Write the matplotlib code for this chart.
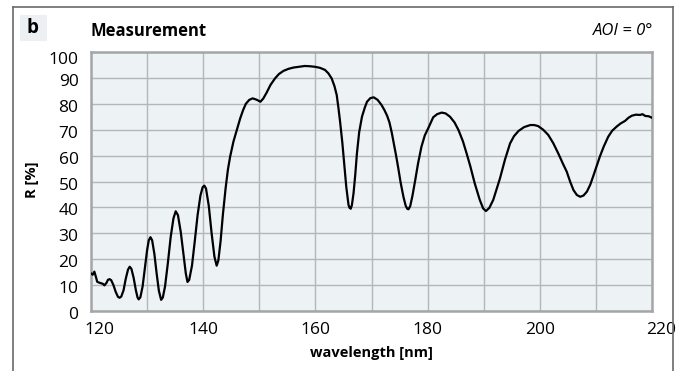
import matplotlib
matplotlib.use("Agg")
import matplotlib.pyplot as plt
from matplotlib.lines import Line2D
from matplotlib.patches import Rectangle
import matplotlib.transforms as mtransforms

plt.rcParams['font.family'] = ['Open Sans', 'DejaVu Sans']

wavelength = [
    120.0, 120.3, 120.6, 120.9, 121.1, 121.4, 121.8, 122.1, 122.4, 122.8,
    123.0, 123.3, 123.6, 124.0, 124.4, 124.8, 125.1, 125.4, 125.8, 126.2,
    126.6, 126.9, 127.2, 127.6, 128.0, 128.3, 128.5, 128.8, 129.2, 129.6,
    130.0, 130.3, 130.6, 130.9, 131.3, 131.7, 132.1, 132.5, 132.8, 133.2,
    133.7, 134.2, 134.7, 135.1, 135.5, 136.0, 136.5, 136.9, 137.2, 137.5,
    138.0, 138.5, 139.0, 139.5, 139.9, 140.2, 140.5, 141.0, 141.5, 142.0,
    142.4, 142.7, 143.1, 143.5, 144.0, 144.4, 144.8, 145.4, 146.0, 146.6,
    147.1, 147.6, 148.2, 148.8, 149.5, 150.2, 150.7, 151.3, 152.0, 152.8,
    153.5, 154.3, 155.2, 156.1, 157.1, 158.1, 159.0, 159.9, 160.8, 161.7,
    162.3, 162.9, 163.4, 163.8, 164.1, 164.4, 164.8, 165.1, 165.5, 165.9,
    166.1, 166.3, 166.5, 166.8, 167.1, 167.4, 167.8, 168.3, 168.8, 169.2,
    169.8, 170.4, 171.1, 171.8, 172.3, 172.8, 173.2, 173.6, 174.0, 174.4,
    174.8, 175.2, 175.7, 176.1, 176.4, 176.6, 176.9, 177.3, 177.8, 178.3,
    178.9, 179.5, 180.1, 181.0, 181.7, 182.5, 183.2, 184.0, 184.8, 185.5,
    186.3, 187.0, 187.6, 188.4, 189.3, 189.9, 190.4, 191.0, 191.7, 192.3,
    192.9, 193.8, 194.7, 195.4, 196.2, 197.2, 198.3, 199.0, 199.7, 200.6,
    201.5, 202.4, 203.3, 204.2, 204.8, 205.4, 206.0, 206.6, 207.2, 207.8,
    208.4, 209.0, 209.5, 210.1, 210.7, 211.4, 212.2, 212.9, 213.7, 214.4,
    215.2, 215.8, 216.4, 217.1, 217.9, 218.3, 218.8, 219.4, 220.0,
]
reflectance = [
    14.5, 14.0, 15.2, 13.0, 11.3, 11.0, 10.7, 10.5, 9.9, 11.0,
    12.0, 12.3, 11.9, 10.0, 7.4, 5.5, 5.1, 5.6, 8.0, 12.5,
    16.0, 17.1, 16.3, 12.8, 8.0, 5.2, 4.5, 5.3, 9.5, 16.5,
    23.5, 27.3, 28.5, 27.3, 22.0, 14.5, 7.8, 4.3, 5.2, 9.5,
    18.5, 28.5, 35.8, 38.5, 37.0, 30.5, 21.5, 14.5, 11.2, 12.0,
    17.5, 27.0, 37.0, 44.5, 47.8, 48.4, 47.3, 40.5, 30.0, 21.0,
    17.5, 19.5, 27.0, 37.0, 47.5, 54.5, 59.6, 65.5, 69.9, 74.4,
    77.5, 80.0, 81.5, 82.1, 81.6, 80.8, 82.0, 84.3, 87.3, 89.8,
    91.5, 92.7, 93.5, 94.0, 94.3, 94.6, 94.5, 94.3, 93.9, 93.1,
    91.8, 89.8, 86.8, 83.4, 78.5, 73.1, 65.0, 57.6, 48.0, 41.0,
    39.8, 39.5, 40.8, 45.5, 52.5, 60.8, 69.0, 75.0, 78.5, 80.8,
    82.2, 82.5, 81.5, 79.5, 77.6, 75.3, 72.8, 69.0, 64.5, 59.8,
    54.8, 49.5, 44.0, 40.6, 39.4, 39.3, 40.5, 44.5, 50.6, 57.0,
    63.4, 67.8, 70.5, 74.8, 76.0, 76.6, 76.3, 75.0, 72.8, 69.9,
    65.5, 60.5, 56.0, 49.3, 42.9, 39.6, 38.6, 39.8, 42.9, 47.0,
    51.2, 58.5, 64.7, 67.5, 69.5, 71.0, 71.8, 71.8, 71.4, 70.0,
    68.0, 64.8, 60.8, 56.5, 53.8, 50.0, 46.7, 44.8, 44.1, 44.6,
    46.1, 48.8, 51.9, 55.8, 59.6, 63.5, 67.3, 69.6, 71.2, 72.4,
    73.4, 74.6, 75.4, 75.8, 75.7, 76.0, 75.3, 75.2, 74.6,
]
x_ticks = [120, 140, 160, 180, 200, 220]
x_grid = [130, 150, 170, 190, 210]
y_ticks = [0, 10, 20, 30, 40, 50, 60, 70, 80, 90, 100]

W, H = 680, 371
fig = plt.figure(figsize=(W / 100, H / 100), dpi=100)
ax = fig.add_axes([91 / W, (H - 311) / H, (652 - 91) / W, (311 - 52) / H])
ax.set_facecolor('#edf2f5')

ax.plot(wavelength, reflectance, color='black', lw=1.6, zorder=3,
        solid_joinstyle='round')

ax.set_xlim(120, 220)
ax.set_ylim(0, 100)
ax.set_xticks(x_ticks)
ax.set_xticks(x_grid, minor=True)
ax.set_yticks(y_ticks)
ax.grid(True, which='both', color='#b4b6b8', lw=1.0)
ax.set_axisbelow(True)
ax.tick_params(which='both', length=0)
ax.tick_params(axis='y', labelsize=12.5, pad=9)
ax.tick_params(axis='x', labelsize=12.5, pad=8)
for s in ax.spines.values():
    s.set_color('#a4a6a8')
    s.set_linewidth(1.8)

fig.canvas.draw()
xl = ax.get_xticklabels()
xl[0].set_transform(xl[0].get_transform() + mtransforms.ScaledTranslation(8 / 100, 0, fig.dpi_scale_trans))
xl[-1].set_transform(xl[-1].get_transform() + mtransforms.ScaledTranslation(9 / 100, 0, fig.dpi_scale_trans))
for i, t in enumerate(ax.get_yticklabels()):
    dy = -6 if i == len(y_ticks) - 1 else -2
    t.set_transform(t.get_transform() + mtransforms.ScaledTranslation(0, dy / 100, fig.dpi_scale_trans))

ax.set_xlabel('wavelength [nm]', fontsize=10.5, fontweight='bold', labelpad=6)
fig.text(32 / W, 1 - 180 / H, 'R [%]', fontsize=10.5, fontweight='bold',
         rotation=90, ha='center', va='center')

fig.text(91 / W, 1 - 31 / H, 'Measurement', fontsize=12, fontweight='bold',
         ha='left', va='center')
fig.text(653 / W, 1 - 31 / H, 'AOI = 0°', fontsize=12, fontstyle='italic',
         ha='right', va='center')

fig.patches.append(Rectangle((20 / W, 1 - 41 / H), 27 / W, 26 / H,
                             transform=fig.transFigure, facecolor='#edf0f2',
                             edgecolor='none'))
fig.text(33 / W, 1 - 28 / H, 'b', fontsize=13.5, fontweight='bold',
         ha='center', va='center')

frame_kw = dict(transform=fig.transFigure, color='#6a6a6a', lw=1.2)
fig.lines.append(Line2D([12.5 / W, 12.5 / W], [0, 1 - 7 / H], **frame_kw))
fig.lines.append(Line2D([12.5 / W, 673 / W], [1 - 7 / H, 1 - 7 / H], **frame_kw))
fig.lines.append(Line2D([673 / W, 673 / W], [0, 1 - 7 / H], **frame_kw))

fig.savefig('out.png', dpi=100, facecolor='white')
